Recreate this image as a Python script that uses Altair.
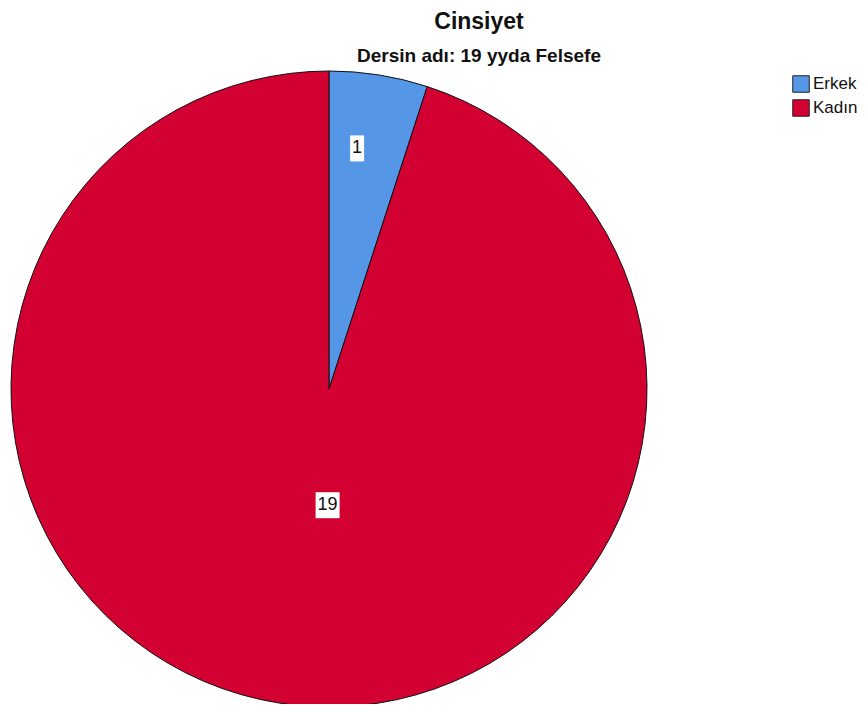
import altair as alt
import pandas as pd

# ---- data ----
categories = ["Erkek", "Kadın"]
counts = [1, 19]
colors = ["#5596E6", "#D30032"]
title_text = "Cinsiyet"
subtitle_text = "Dersin adı: 19 yyda Felsefe"

df = pd.DataFrame({"Cinsiyet": categories, "count": counts, "ord": list(range(len(categories)))})

W, H = 852, 696
CX, CY, R = 321, 381, 318
FONT = "Liberation Sans"

base = alt.Chart(df)

pie = base.mark_arc(outerRadius=R, stroke="#111111", strokeWidth=1).encode(
    theta=alt.Theta("count:Q", stack=True),
    color=alt.Color(
        "Cinsiyet:N",
        sort=categories,
        scale=alt.Scale(domain=categories, range=colors),
        legend=alt.Legend(
            title=None,
            orient="none",
            legendX=784,
            legendY=67,
            padding=0,
            symbolType="square",
            symbolSize=272,
            symbolStrokeColor="#222222",
            symbolStrokeWidth=1,
            symbolOpacity=1,
            labelFont=FONT,
            labelFontSize=17,
            labelColor="#111111",
            labelOffset=3,
            rowPadding=2,
        ),
    ),
    order=alt.Order("ord:Q"),
    x=alt.value(CX),
    y=alt.value(CY),
)

lab = base.transform_joinaggregate(total="sum(count)").transform_window(
    cum="sum(count)", sort=[alt.SortField("ord")]
).transform_calculate(
    label="toString(datum.count)",
    mid="(datum.cum - datum.count / 2) / datum.total * 2 * PI",
    small="datum.count / datum.total < 0.5",
).transform_calculate(
    rf="datum.small ? 0.766 : 0.37",
    shift="datum.small ? -10 : 17",
).transform_calculate(
    lx=f"{CX} + {R} * datum.rf * sin(datum.mid) + datum.shift",
    ly=f"{CY} - {R} * datum.rf * cos(datum.mid)",
    hw="2 + 5 * length(datum.label)",
).transform_calculate(
    bx0="datum.lx - datum.hw",
    bx1="datum.lx + datum.hw",
    by0="datum.ly - 13",
    by1="datum.ly + 13",
)

boxes = lab.mark_rect(color="white").encode(
    x=alt.X("bx0:Q", scale=None, axis=None),
    x2="bx1:Q",
    y=alt.Y("by0:Q", scale=None, axis=None),
    y2="by1:Q",
)

texts = lab.mark_text(font=FONT, fontSize=18, color="#111111", align="center", baseline="middle").encode(
    x=alt.X("lx:Q", scale=None, axis=None),
    y=alt.Y("ly:Q", scale=None, axis=None),
    text="label:N",
)

titles = pd.DataFrame({"t": [title_text, subtitle_text], "kind": ["title", "subtitle"]})
title_mark = alt.Chart(titles).transform_filter("datum.kind == 'title'").mark_text(
    font=FONT, fontSize=23, fontWeight="bold", color="#111111", align="center", baseline="alphabetic"
).encode(x=alt.value(471), y=alt.value(21), text="t:N")
sub_mark = alt.Chart(titles).transform_filter("datum.kind == 'subtitle'").mark_text(
    font=FONT, fontSize=19, fontWeight="bold", color="#111111", align="center", baseline="alphabetic"
).encode(x=alt.value(471), y=alt.value(54), text="t:N")

chart = alt.layer(pie, boxes, texts, title_mark, sub_mark).properties(
    width=W, height=H, autosize=alt.AutoSizeParams(type="none"), padding=0
).configure_view(stroke=None)

chart.save("out.html", embed_options={"renderer": "svg", "actions": False})
